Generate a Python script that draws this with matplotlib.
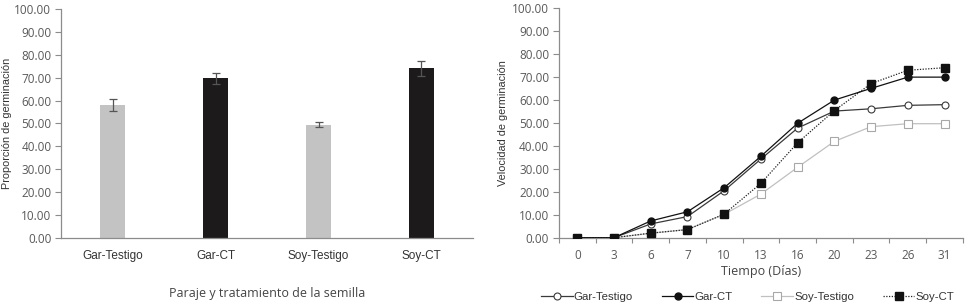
import matplotlib
matplotlib.use("Agg")
import matplotlib.pyplot as plt
import numpy as np

# Left chart data
bar_cats = ["Gar-Testigo", "Gar-CT", "Soy-Testigo", "Soy-CT"]
bar_vals = [58.0, 69.8, 49.5, 74.2]
bar_err = [2.6, 2.4, 1.0, 3.3]
bar_colors = ["#c3c3c3", "#1c1a1b", "#c3c3c3", "#1c1a1b"]

# Right chart data
days = ["0", "3", "6", "7", "10", "13", "16", "20", "23", "26", "31"]
gar_testigo = [0, 0, 6.0, 9.2, 20.5, 34.3, 47.8, 55.2, 56.2, 57.7, 58.0]
gar_ct = [0, 0, 7.3, 11.3, 21.8, 35.5, 49.9, 60.0, 65.1, 70.0, 70.0]
soy_testigo = [0, 0, 1.9, 3.6, 10.2, 19.0, 30.7, 42.0, 48.4, 49.7, 49.7]
soy_ct = [0, 0, 2.0, 3.5, 10.3, 23.7, 41.4, 55.4, 67.2, 73.0, 74.1]

yticks = np.arange(0, 101, 10)
ytick_labels = [f"{v:.2f}" for v in yticks]

TXT = "#595959"
AX = "#8c8c8c"
tickfont = {"family": ["Open Sans", "DejaVu Sans"], "size": 8.5}
labfont = ["Liberation Sans", "DejaVu Sans"]

fig = plt.figure(figsize=(9.72, 3.05), dpi=100)
ax1 = fig.add_axes([0.0628, 0.2207, 0.4238, 0.7488])
ax2 = fig.add_axes([0.575, 0.2207, 0.4157, 0.752])

def style(ax):
    for s in ["top", "right"]:
        ax.spines[s].set_visible(False)
    for s in ["left", "bottom"]:
        ax.spines[s].set_color(AX)
        ax.spines[s].set_linewidth(0.9)
    ax.set_ylim(0, 100)
    ax.set_yticks(yticks)
    ax.set_yticklabels(ytick_labels, fontdict=tickfont, color=TXT)
    ax.tick_params(axis="y", length=4, color=AX, width=0.8, pad=3)

# Bars
style(ax1)
x1 = np.arange(len(bar_cats))
ax1.bar(x1, bar_vals, width=0.25, color=bar_colors, zorder=2)
ax1.errorbar(x1, bar_vals, yerr=bar_err, fmt="none", ecolor="#555555",
             elinewidth=0.9, capsize=3, capthick=0.9, zorder=3)
ax1.set_xlim(-0.5, len(bar_cats) - 0.5)
ax1.set_xticks(x1)
ax1.set_xticklabels(bar_cats, family=labfont, fontsize=8.5, color="#333333")
ax1.tick_params(axis="x", length=0, pad=9)
ax1.set_ylabel("Proporción de germinación", family=labfont, fontsize=7.8,
               color="#333333", labelpad=2)
ax1.set_xlabel("Paraje y tratamiento de la semilla",
               family=["Open Sans", "DejaVu Sans"], fontsize=9, color="#444444",
               labelpad=18)

# Lines
style(ax2)
x2 = np.arange(len(days))
ax2.plot(x2, gar_testigo, color="#3a3a3a", lw=0.9, marker="o", ms=5,
         mfc="white", mec="#3a3a3a", mew=0.8, label="Gar-Testigo", zorder=3)
ax2.plot(x2, gar_ct, color="#111111", lw=0.9, marker="o", ms=5,
         mfc="#111111", mec="#111111", label="Gar-CT", zorder=4)
ax2.plot(x2, soy_testigo, color="#c0c0c0", lw=0.9, marker="s", ms=5.5,
         mfc="white", mec="#a8a8a8", mew=0.8, label="Soy-Testigo", zorder=2)
ax2.plot(x2, soy_ct, color="#222222", lw=0.9, ls=(0, (1, 1.2)), marker="s", ms=6,
         mfc="#111111", mec="#111111", label="Soy-CT", zorder=5)
ax2.set_xlim(-0.5, len(days) - 0.5)
ax2.set_xticks(x2)
ax2.set_xticklabels(days, fontdict=tickfont, color=TXT)
ax2.set_xticks(np.arange(-0.5, len(days), 1.0), minor=True)
ax2.tick_params(axis="x", which="major", length=0, pad=8)
ax2.tick_params(axis="x", which="minor", length=3.5, color=AX, width=0.8)
ax2.set_ylabel("Velocidad de germinación", family=labfont, fontsize=7.8,
               color="#333333", labelpad=3)
ax2.set_xlabel("Tiempo (Días)", family=["Open Sans", "DejaVu Sans"], fontsize=9,
               color="#444444", labelpad=2)
leg = ax2.legend(loc="upper center", bbox_to_anchor=(0.467, -0.215), ncol=4,
                 frameon=False, prop={"family": labfont, "size": 8.2},
                 handlelength=2.8, handletextpad=0.1, columnspacing=2.5,
                 borderaxespad=0)
for t in leg.get_texts():
    t.set_color("#333333")

fig.savefig("out.png", dpi=100)
